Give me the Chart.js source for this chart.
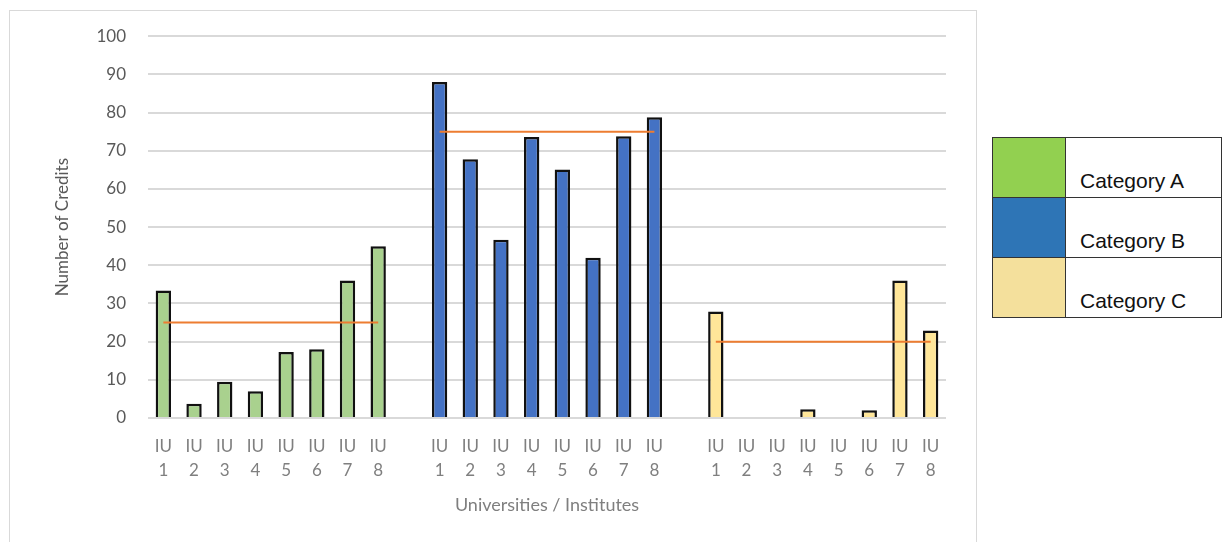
<!DOCTYPE html>
<html>
<head>
<meta charset="utf-8">
<script src="https://cdn.jsdelivr.net/npm/chart.js@4.4.1/dist/chart.umd.min.js"></script>
<style>
    body { margin: 0; background: #fff; width: 1222px; height: 542px; overflow: hidden; position: relative; }
    #chart-box { position: absolute; left: 9px; top: 10px; width: 966px; height: 540px; border: 1px solid #d9d9d9; }
    #chart-wrap { position: absolute; left: 0; top: -7px; width: 966px; height: 538px; }
    #legend { position: absolute; left: 992px; top: 137px; border-collapse: collapse; font-family: "Liberation Sans", Arial, sans-serif; font-size: 21px; color: #111; }
    #legend td { border: 1px solid #333; height: 59px; padding: 0; vertical-align: bottom; }
    #legend td.swatch { width: 72px; }
    #legend td.name { width: 156px; padding-left: 14px; padding-bottom: 4px; box-sizing: border-box; }
</style>
</head>
<body>
<div id="chart-box">
    <div id="chart-wrap"><canvas id="credits-chart"></canvas></div>
</div>
<table id="legend"></table>
<script>
// values
const universities = ['1', '2', '3', '4', '5', '6', '7', '8'];
const categoryNames = ['Category A', 'Category B', 'Category C'];
const creditsA = [33.4, 3.7, 9.5, 7.0, 17.3, 18.0, 36.0, 45.0];
const creditsB = [88, 67.8, 46.7, 73.6, 65.1, 42, 73.8, 78.8];
const creditsC = [27.9, 0, 0, 2.3, 0, 2.0, 36.0, 22.9];
const averages = [25, 75, 20];
const yTicks = [0, 10, 20, 30, 40, 50, 60, 70, 80, 90, 100];

const barColors = ['#a9d18e', '#4472c4', '#ffe699'];
const legendColors = ['#92d050', '#2e75b6', '#f4e09c'];

// x labels: 8 per group with one empty slot between groups
const groups = [creditsA, creditsB, creditsC];
const labels = [];
groups.forEach((g, gi) => {
    universities.forEach(u => labels.push(['IU', u]));
    if (gi < groups.length - 1) labels.push('');
});

function spread(values, groupIndex) {
    const out = [];
    groups.forEach((g, gi) => {
        universities.forEach((u, i) => out.push(gi === groupIndex ? values[i] : null));
        if (gi < groups.length - 1) out.push(null);
    });
    return out;
}

const datasets = groups.map((g, gi) => ({
    type: 'bar',
    label: categoryNames[gi],
    data: spread(g, gi),
    backgroundColor: barColors[gi],
    borderColor: '#111',
    borderWidth: 2.5,
    borderSkipped: 'bottom',
    grouped: false,
    barPercentage: 0.5,
    categoryPercentage: 1,
    order: 2
}));

groups.forEach((g, gi) => {
    datasets.push({
        type: 'line',
        label: 'Average ' + categoryNames[gi],
        data: spread(universities.map(() => averages[gi]), gi),
        borderColor: '#ed7d31',
        borderWidth: 2,
        pointRadius: 0,
        spanGaps: false,
        order: 1
    });
});

const axisFont = { family: 'Lato, "Open Sans", sans-serif', size: 17 };

new Chart(document.getElementById('credits-chart'), {
    data: { labels: labels, datasets: datasets },
    options: {
        responsive: true,
        maintainAspectRatio: false,
        animation: false,
        layout: { padding: { left: 0, right: 30, top: 17, bottom: 0 } },
        plugins: {
            legend: { display: false },
            tooltip: { enabled: false }
        },
        scales: {
            x: {
                grid: { display: false },
                border: { display: false },
                ticks: {
                    autoSkip: false,
                    maxRotation: 0,
                    padding: 9,
                    color: '#7f7f7f',
                    font: { ...axisFont, lineHeight: 1.4 }
                },
                title: {
                    display: true,
                    text: 'Universities / Institutes',
                    color: '#7f7f7f',
                    font: { ...axisFont, size: 18 },
                    padding: { top: 0, bottom: 26 }
                },
                afterFit: (scale) => { scale.height = 124; }
            },
            y: {
                min: 0,
                max: 100,
                afterBuildTicks: (scale) => { scale.ticks = yTicks.map(v => ({ value: v })); },
                grid: { color: '#d9d9d9', lineWidth: 2, drawTicks: false },
                border: { display: false },
                ticks: {
                    padding: 22,
                    color: '#595959',
                    font: axisFont
                },
                title: {
                    display: true,
                    text: 'Number of Credits',
                    color: '#595959',
                    font: { ...axisFont, size: 17 },
                    padding: { top: 42, bottom: 0 }
                },
                afterFit: (scale) => { scale.width = 138; }
            }
        }
    }
});

// table legend on the right
const legendTable = document.getElementById('legend');
categoryNames.forEach((name, i) => {
    const row = document.createElement('tr');
    const swatch = document.createElement('td');
    swatch.className = 'swatch';
    swatch.style.background = legendColors[i];
    const cell = document.createElement('td');
    cell.className = 'name';
    cell.textContent = name;
    row.appendChild(swatch);
    row.appendChild(cell);
    legendTable.appendChild(row);
});
</script>
</body>
</html>
